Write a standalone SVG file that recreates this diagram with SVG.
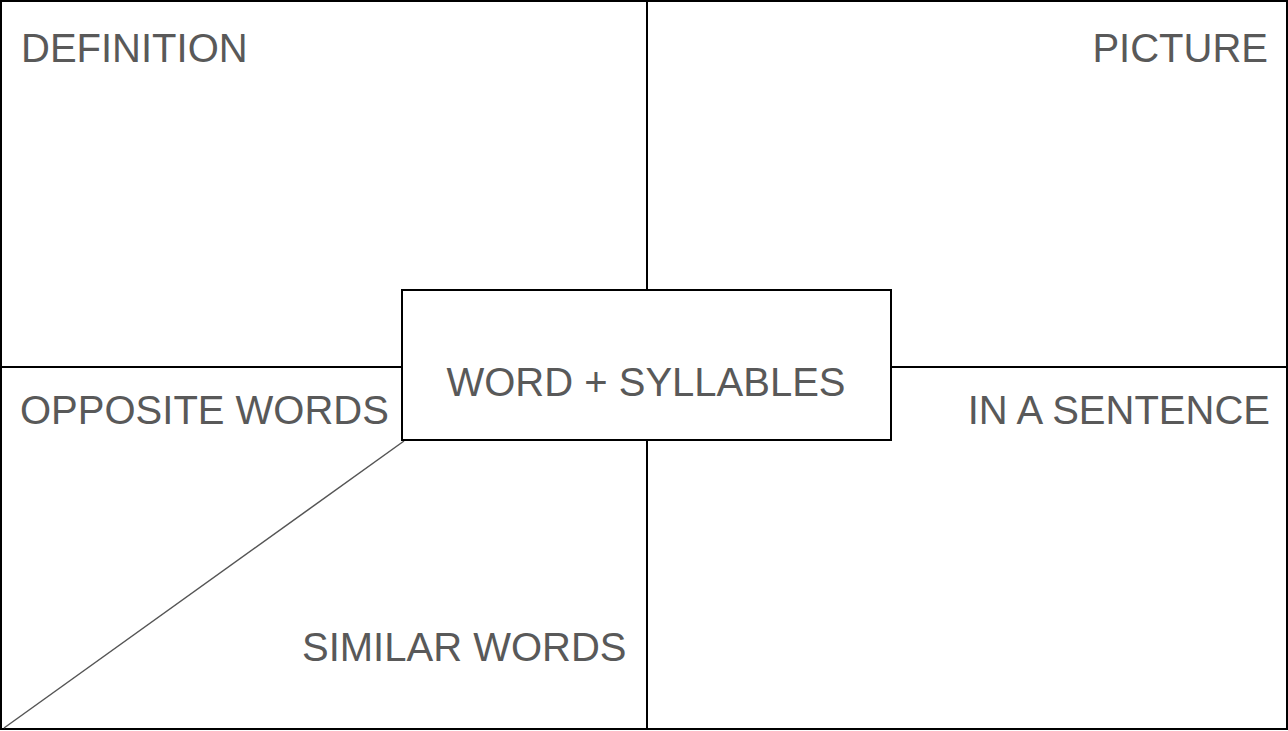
<svg xmlns="http://www.w3.org/2000/svg" width="1288" height="731" viewBox="0 0 1288 731">
<style>
.ln{stroke:#000;stroke-width:2;fill:none}
.lbl{font-family:"Liberation Sans",Arial,sans-serif;font-size:40px;fill:#595959}
</style>
<rect x="0" y="0" width="1288" height="731" fill="#fff"/>
<g id="frame">
<rect class="ln" x="1" y="1" width="1286" height="728"/>
</g>
<g id="connectors">
<line class="ln" x1="647" y1="1" x2="647" y2="290"/>
<line class="ln" x1="647" y1="440" x2="647" y2="729"/>
<line class="ln" x1="1" y1="367" x2="402" y2="367"/>
<line class="ln" x1="891" y1="367" x2="1287" y2="367"/>
<line x1="404" y1="441" x2="4" y2="728" stroke="#555" stroke-width="1.5"/>
</g>
<g id="definition"><text class="lbl" x="21" y="62">DEFINITION</text></g>
<g id="picture"><text class="lbl" x="1268" y="62" text-anchor="end">PICTURE</text></g>
<g id="word"><rect class="ln" x="402" y="290" width="489" height="150" fill="#fff"/><text class="lbl" x="646" y="396" text-anchor="middle">WORD + SYLLABLES</text></g>
<g id="opposite"><text class="lbl" x="20" y="424">OPPOSITE WORDS</text></g>
<g id="sentence"><text class="lbl" x="1270" y="424" text-anchor="end">IN A SENTENCE</text></g>
<g id="similar"><text class="lbl" x="302" y="661">SIMILAR WORDS</text></g>
</svg>
